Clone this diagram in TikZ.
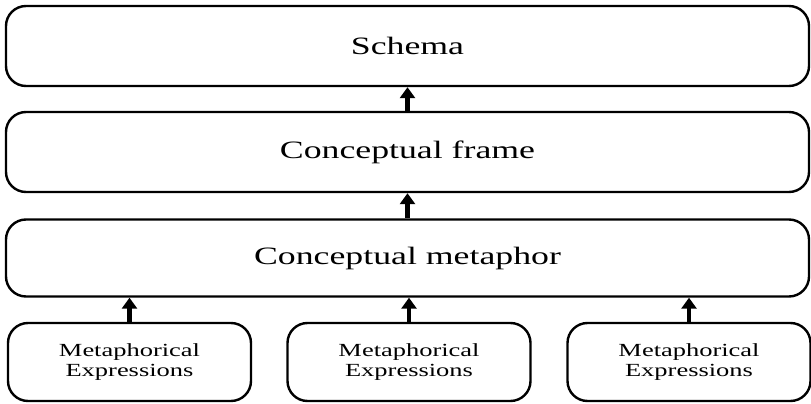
\documentclass[tikz,border=0pt]{standalone}
\usepackage{fontspec}
\setmainfont{Liberation Serif}
\usetikzlibrary{arrows.meta}

\newcommand{\wide}[1]{\scalebox{1.43}[1]{#1}}

\begin{document}
\begin{tikzpicture}[x=1pt, y=1pt,
    box/.style={draw, line width=2.4pt, rounded corners=20pt, inner sep=0pt, align=center},
    bigbox/.style={box, minimum width=803pt, font=\fontsize{25}{28}\selectfont},
    smallbox/.style={box, minimum width=243pt, minimum height=78pt, font=\fontsize{18.5}{19.5}\selectfont},
    up/.style={line width=4.5pt, -{Triangle[width=15pt, length=11pt]}}]
    \useasboundingbox (0,0) rectangle (811,-404);
    \node[bigbox, minimum height=80pt] (schema) at (407.5,-46) {\wide{Schema}};
    \node[bigbox, minimum height=80pt] (frame) at (407.5,-152) {\wide{Conceptual frame}};
    \node[bigbox, minimum height=77pt] (meta) at (407.5,-258) {\wide{Conceptual metaphor}};
    \node[smallbox] (expr1) at (129.5,-362) {\wide{Metaphorical}\\\wide{Expressions}};
    \node[smallbox] (expr2) at (409,-362) {\wide{Metaphorical}\\\wide{Expressions}};
    \node[smallbox] (expr3) at (689,-362) {\wide{Metaphorical}\\\wide{Expressions}};
    % arrows upwards
    \draw[up] (frame.north) -- (schema.south);
    \draw[up] (meta.north) -- (frame.south);
    \foreach \e in {expr1, expr2, expr3}
      \draw[up] (\e.north) -- (\e.north |- meta.south);
\end{tikzpicture}
\end{document}
